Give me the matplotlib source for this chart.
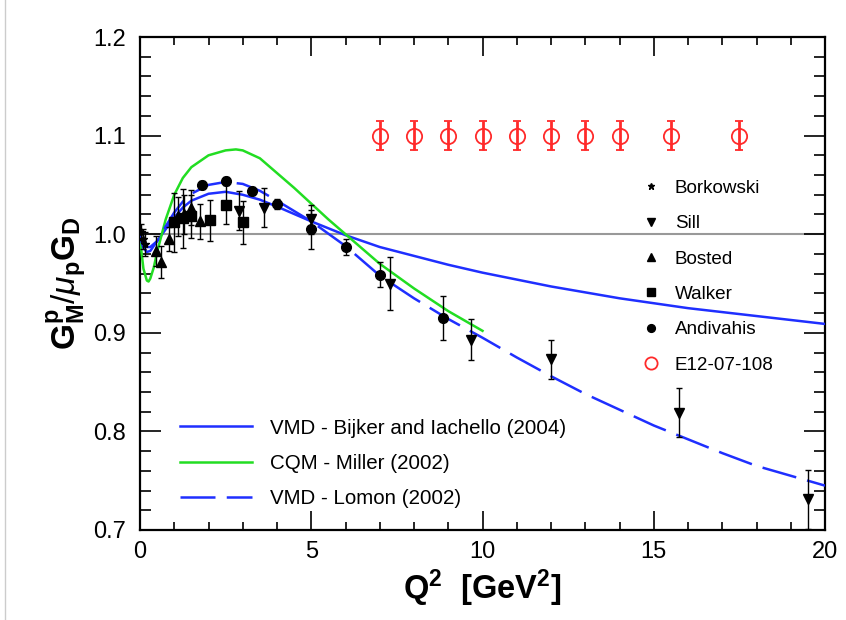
import numpy as np
import matplotlib
matplotlib.use("Agg")
import matplotlib.pyplot as plt
from matplotlib.lines import Line2D

plt.rcParams['font.family'] = ['Liberation Sans', 'DejaVu Sans']
plt.rcParams['mathtext.fontset'] = 'custom'
plt.rcParams['mathtext.rm'] = 'Liberation Sans'
plt.rcParams['mathtext.bf'] = 'Liberation Sans:bold'
plt.rcParams['mathtext.it'] = 'Liberation Sans:italic'

# --- data points (Q2, ratio, error) ---
bork_x = [0.03, 0.08, 0.15]
bork_y = [1.002, 0.995, 0.990]
bork_e = [0.008, 0.010, 0.012]

sill_x = [2.9, 3.62, 5.0, 7.3, 9.65, 12.0, 15.75, 19.5]
sill_y = [1.024, 1.027, 1.015, 0.950, 0.893, 0.873, 0.819, 0.731]
sill_e = [0.020, 0.020, 0.015, 0.027, 0.021, 0.020, 0.025, 0.030]

bost_x = [0.47, 0.6, 0.85, 1.1, 1.28, 1.5, 1.75]
bost_y = [0.983, 0.972, 0.995, 1.018, 1.020, 1.027, 1.013]
bost_e = [0.015, 0.016, 0.012, 0.020, 0.020, 0.018, 0.018]

walk_x = [1.0, 1.27, 1.5, 2.04, 2.51, 3.02]
walk_y = [1.012, 1.016, 1.018, 1.014, 1.030, 1.012]
walk_e = [0.030, 0.030, 0.022, 0.021, 0.020, 0.022]

andi_x = [1.8, 2.51, 3.26, 4.0, 5.0, 6.0, 7.0, 8.85]
andi_y = [1.050, 1.054, 1.044, 1.031, 1.005, 0.987, 0.959, 0.915]
andi_e = [0.004, 0.004, 0.004, 0.005, 0.020, 0.008, 0.013, 0.022]

e12_x = [7, 8, 9, 10, 11, 12, 13, 14, 15.5, 17.5]
e12_y = [1.1] * 10
e12_e = [0.015] * 10

# --- model curves ---
bijker_x = [0, 0.1, 0.2, 0.3, 0.5, 0.75, 1.0, 1.25, 1.5, 2.0, 2.5, 3.0, 3.5, 4.0, 5.0,
            6.0, 7.0, 8.0, 9.0, 10, 11, 12, 13, 14, 15, 16, 17, 18, 19, 20]
bijker_y = [0.998, 0.990, 0.987, 0.987, 0.993, 1.005, 1.017, 1.027, 1.034, 1.041, 1.043,
            1.040, 1.035, 1.028, 1.013, 0.999, 0.987, 0.978, 0.969, 0.961, 0.954, 0.947,
            0.941, 0.935, 0.930, 0.925, 0.921, 0.917, 0.913, 0.909]

lomon_x = bijker_x
lomon_y = [0.997, 0.986, 0.982, 0.983, 0.993, 1.008, 1.022, 1.033, 1.041, 1.050, 1.053,
           1.051, 1.044, 1.034, 1.013, 0.988, 0.958, 0.935, 0.914, 0.895, 0.875, 0.856,
           0.838, 0.822, 0.806, 0.792, 0.778, 0.765, 0.755, 0.745]

miller_x = [0, 0.1, 0.2, 0.25, 0.3, 0.4, 0.5, 0.75, 1.0, 1.25, 1.5, 2.0, 2.5, 2.8, 3.0,
            3.5, 4.0, 4.5, 5.0, 5.5, 6.0, 7.0, 8.0, 9.0, 10.0]
miller_y = [0.995, 0.965, 0.953, 0.952, 0.955, 0.966, 0.982, 1.015, 1.040, 1.057, 1.068,
            1.080, 1.085, 1.086, 1.085, 1.077, 1.062, 1.047, 1.031, 1.015, 1.000, 0.970,
            0.945, 0.922, 0.902]

fig = plt.figure(figsize=(8.46, 6.2), dpi=100)
ax = fig.add_axes([140/846, 1-530/620, 685/846, 493/620])

ax.axhline(1.0, color='#999999', lw=1.5, zorder=1)

l_bij, = ax.plot(bijker_x, bijker_y, color='#1f2fff', lw=1.8, zorder=3)
l_mil, = ax.plot(miller_x, miller_y, color='#22dd22', lw=1.8, zorder=3)
l_lom, = ax.plot(lomon_x, lomon_y, color='#1f2fff', lw=1.8, zorder=3, dashes=(14, 4.5))

ekw = dict(ls='none', color='black', ecolor='black', elinewidth=1.0, capsize=2.5, capthick=1.0, zorder=4)
h_bork = ax.errorbar(bork_x, bork_y, yerr=bork_e, marker='*', ms=6, **ekw)
h_sill = ax.errorbar(sill_x, sill_y, yerr=sill_e, marker='v', ms=7, **ekw)
h_bost = ax.errorbar(bost_x, bost_y, yerr=bost_e, marker='^', ms=7, **ekw)
h_walk = ax.errorbar(walk_x, walk_y, yerr=walk_e, marker='s', ms=7, **ekw)
h_andi = ax.errorbar(andi_x, andi_y, yerr=andi_e, marker='o', ms=7, **ekw)
h_e12 = ax.errorbar(e12_x, e12_y, yerr=e12_e, ls='none', marker='o', ms=11, mfc='none',
                    mec='#ff2a2a', mew=1.3, ecolor='#ff2a2a', elinewidth=2.0, capsize=3,
                    capthick=2.0, zorder=4)

ax.set_xlim(0, 20)
ax.set_ylim(0.7, 1.2)
ax.set_xticks([0, 5, 10, 15, 20])
ax.set_xticks(np.arange(0, 21, 1), minor=True)
ax.set_yticks([0.7, 0.8, 0.9, 1.0, 1.1, 1.2])
ax.set_yticklabels(['0.7', '0.8', '0.9', '1.0', '1.1', '1.2'])
ax.set_yticks(np.arange(0.7, 1.201, 0.02), minor=True)
ax.tick_params(which='both', direction='in', top=True, right=True, width=1.2, labelsize=17)
ax.tick_params(axis='y', which='major', length=15, pad=10)
ax.tick_params(axis='y', which='minor', length=8)
ax.tick_params(axis='x', which='major', length=14, pad=8)
ax.tick_params(axis='x', which='minor', length=6)
for s in ax.spines.values():
    s.set_linewidth(1.6)

ax.set_xlabel(r'$\mathbf{Q^{2}}\ \ \mathbf{[GeV^{2}]}$', fontsize=23.5, labelpad=3)
ax.set_ylabel(r'$\mathbf{G^{p}_{M}}/\mu_{\mathbf{p}}\mathbf{G_{D}}$', fontsize=24, labelpad=3)

leg1 = ax.legend([h_bork[0], h_sill[0], h_bost[0], h_walk[0], h_andi[0], h_e12[0]],
                 ['Borkowski', 'Sill', 'Bosted', 'Walker', 'Andivahis', 'E12-07-108'],
                 loc='upper left', bbox_to_anchor=(0.705, 0.745), frameon=False, fontsize=13.6,
                 handlelength=1.2, handletextpad=0.65, labelspacing=0.96, numpoints=1,
                 markerscale=0.8)
ax.add_artist(leg1)
ax.legend([l_bij, l_mil, l_lom],
          ['VMD - Bijker and Iachello (2004)', 'CQM - Miller (2002)', 'VMD - Lomon (2002)'],
          loc='lower left', bbox_to_anchor=(0.031, 0.007), frameon=False, fontsize=14.8,
          handlelength=3.5, handletextpad=0.87, labelspacing=0.79)

fig.add_artist(Line2D([5/846, 5/846], [0, 1], color='#cccccc', lw=1))

fig.savefig('out.png', dpi=100)
